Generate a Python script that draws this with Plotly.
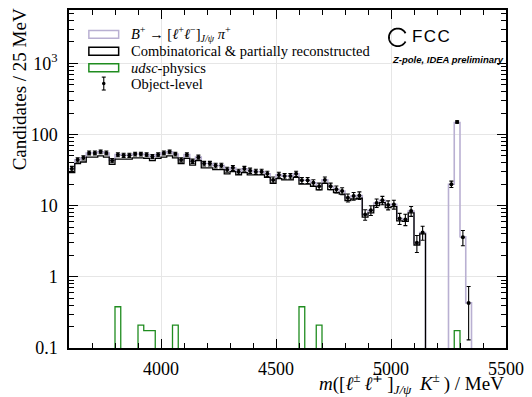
import numpy as np
import plotly.graph_objects as go

# ---------------- data (25 MeV bins from 3600 to 5500) ----------------
bin_edges = np.arange(3600, 5501, 25)          # 77 edges -> 76 bins
bin_centers = bin_edges[:-1] + 12.5

# Object-level (points); None = empty bin
obj_level = [33, 44, 47, 55, 55, 57, 55, 43, 52, 51,
             51, 53, 53, 52, 49, 52, 55, 57, 53, 44,
             52, 42, 48, 39, 39, 36.5, 36.5, 32, 34, 30,
             33, 31, 30, 30, 28, 23, 27, 26, 26, 28,
             22.7, 22.7, 21, 18.7, 23, 18.7, 17, 16, 12.9, 13.6,
             13.9, 7.5, 8.6, 10.9, 11.9, 10.2, 10.4, 6.6, 6.4, 8.4,
             3.0, 4.2, None, None, None, None, 20, 150, 3.6, 0.43,
             None, None, None, None, None, None]
obj_err = [2.6, 3.1, 3.2, 3.4, 3.4, 3.5, 3.4, 3.0, 3.3, 3.3,
           3.3, 3.3, 3.3, 3.3, 3.2, 3.3, 3.4, 3.5, 3.3, 3.1,
           3.3, 3.0, 3.2, 2.9, 2.9, 2.8, 2.8, 2.6, 2.7, 2.5,
           2.6, 2.6, 2.5, 2.5, 2.4, 2.2, 2.4, 2.3, 2.3, 2.4,
           2.2, 2.2, 2.1, 2.0, 2.2, 2.0, 1.9, 1.8, 1.65, 1.7,
           1.7, 1.26, 1.35, 1.5, 1.6, 1.47, 1.48, 1.18, 1.16, 1.33,
           0.8, 0.94, None, None, None, None, 2.06, 5.6, 0.87, 0.3,
           None, None, None, None, None, None]

# Combinatorical & partially reconstructed (black step histogram)
comb = [29, 39, 41, 48, 48, 50, 48, 38, 45, 45,
        45, 47, 47, 46, 43, 46, 48, 50, 47, 39,
        46, 37, 43, 34, 34, 32, 32, 28, 30, 27,
        29, 27, 27, 27, 25, 20.5, 24, 23, 23, 25,
        20, 20, 18.7, 16.6, 20.5, 16.8, 15.3, 14.5, 11.8, 12.4,
        12.7, 6.9, 7.9, 10, 11, 9.4, 9.7, 6.1, 6.0, 7.9,
        2.8, 4.0, 0, 0, 0, 0, 0, 0, 0, 0,
        0, 0, 0, 0, 0, 0]

# B+ -> [l+l-]_{J/psi} pi+ stacked on top of the background (lavender step histogram)
signal_stack = [33, 44, 47, 55, 55, 57, 55, 43, 52, 51,
                51, 53, 53, 52, 49, 52, 55, 57, 53, 44,
                52, 42, 48, 39, 39, 36.5, 36.5, 32, 34, 30,
                33, 31, 30, 30, 28, 23, 27, 26, 26, 28,
                22.7, 22.7, 21, 18.7, 23, 18.7, 17, 16, 12.9, 13.6,
                13.9, 7.5, 8.6, 10.9, 11.9, 10.2, 10.4, 6.6, 6.4, 8.4,
                3.0, 4.2, 0, 0, 0, 0, 20, 147, 3.66, 0.43,
                0, 0, 0, 0, 0, 0]

# udsc-physics (green step histogram)
udsc = [0, 0, 0, 0, 0, 0, 0, 0, 0.38, 0,
        0, 0, 0.21, 0.175, 0.175, 0, 0, 0, 0.21, 0,
        0, 0, 0, 0, 0, 0, 0, 0, 0, 0,
        0, 0, 0, 0, 0, 0, 0, 0, 0, 0,
        0.38, 0, 0, 0.21, 0, 0, 0, 0, 0, 0,
        0, 0, 0, 0, 0, 0, 0, 0, 0, 0,
        0, 0, 0, 0, 0, 0, 0, 0.175, 0, 0,
        0, 0, 0, 0, 0, 0]

x_ticks = [4000, 4500, 5000, 5500]
x_ticklabels = ["4000", "4500", "5000", "5500"]
y_ticks = [0.1, 1, 10, 100, 1000]
y_ticklabels = ["0.1", "1", "10", "100", "10<sup>3</sup>"]

# ---------------- style ----------------
SERIF = "Liberation Serif"
SANS = "Liberation Sans"
LAV = "#b9b0d2"
GREEN = "#1f8c1f"
L, R, T, B = 69, 23, 8, 49
W, H = 532, 397
PW, PH = W - L - R, H - T - B


def px(xp):
    return (xp - L) / PW


def py(yp):
    return (H - B - yp) / PH


def step(vals):
    v = [x if x > 0 else 1e-6 for x in vals]
    return list(bin_edges), v + [v[-1]]


fig = go.Figure()

sx, sy = step(signal_stack)
fig.add_trace(go.Scatter(x=sx, y=sy, mode="lines", line=dict(shape="hv", color=LAV, width=1.6),
                         showlegend=False, hoverinfo="skip"))
cx, cy = step(comb)
fig.add_trace(go.Scatter(x=cx, y=cy, mode="lines", line=dict(shape="hv", color="black", width=1.3),
                         showlegend=False, hoverinfo="skip"))
gx, gy = step(udsc)
fig.add_trace(go.Scatter(x=gx, y=gy, mode="lines", line=dict(shape="hv", color=GREEN, width=1.3),
                         showlegend=False, hoverinfo="skip"))
fig.add_trace(go.Scatter(x=bin_centers, y=obj_level, mode="markers",
                         marker=dict(color="black", size=4),
                         error_y=dict(type="data", array=obj_err, color="black", thickness=1.1, width=2),
                         showlegend=False))

minor_y = [k * 10.0 ** d for d in range(-1, 4) for k in range(2, 10) if k * 10.0 ** d < 5600]
minor_x = [v for v in range(3700, 5500, 100) if v not in x_ticks]

fig.update_xaxes(range=[3600, 5500], tickmode="array", tickvals=x_ticks, ticktext=x_ticklabels,
                 ticks="inside", ticklen=9, tickwidth=1.2, tickcolor="black",
                 showline=True, linecolor="black", linewidth=1.5, mirror="allticks",
                 showgrid=True, gridcolor="#e6e6e6", gridwidth=1, zeroline=False,
                 tickfont=dict(family=SERIF, size=18, color="black"), ticklabelstandoff=4,
                 minor=dict(tickmode="array", tickvals=minor_x, ticks="inside", ticklen=5,
                            tickwidth=1, tickcolor="black", showgrid=False))
fig.update_yaxes(type="log", range=[-1, np.log10(5600)], tickmode="array", tickvals=y_ticks,
                 ticktext=y_ticklabels, ticks="inside", ticklen=9, tickwidth=1.2, tickcolor="black",
                 showline=True, linecolor="black", linewidth=1.5, mirror="allticks",
                 showgrid=True, gridcolor="#e6e6e6", gridwidth=1, zeroline=False,
                 tickfont=dict(family=SERIF, size=18, color="black"), ticklabelstandoff=6,
                 minor=dict(tickmode="array", tickvals=minor_y, ticks="inside", ticklen=5,
                            tickwidth=1, tickcolor="black", showgrid=False))

shapes = []
annotations = []

# legend (manual)
rows = [(32.5, "<i>B</i><sup>+</sup> → [<i>ℓ</i><sup>+</sup><i>ℓ</i><sup>−</sup>]<sub><i>J/ψ</i></sub> <i>π</i><sup>+</sup>", LAV),
        (49.5, "Combinatorical &amp; partially reconstructed", "black"),
        (66, "<i>udsc</i>-physics", GREEN),
        (82, "Object-level", None)]
for yc, label, col in rows:
    if col is not None:
        shapes.append(dict(type="rect", xref="paper", yref="paper",
                           x0=px(89), x1=px(119), y0=py(yc + 4), y1=py(yc - 4),
                           line=dict(color=col, width=1.5), fillcolor="rgba(0,0,0,0)"))
    annotations.append(dict(x=px(129), y=py(yc), xref="paper", yref="paper", xanchor="left",
                            yanchor="middle", text=label, showarrow=False,
                            font=dict(family=SERIF, size=14.5, color="black")))
# error-bar legend symbol
shapes.append(dict(type="line", xref="paper", yref="paper", x0=px(104), x1=px(104),
                   y0=py(75.5), y1=py(88.5), line=dict(color="black", width=1.1)))
for yy in (75.5, 88.5):
    shapes.append(dict(type="line", xref="paper", yref="paper", x0=px(102), x1=px(106),
                       y0=py(yy), y1=py(yy), line=dict(color="black", width=1.1)))
shapes.append(dict(type="circle", xref="paper", yref="paper", x0=px(102.2), x1=px(105.8),
                   y0=py(83.8), y1=py(80.2), fillcolor="black", line=dict(color="black", width=0)))

# FCC logo ring
ang = np.deg2rad(np.arange(28, 333, 4))
rr = 8.8
path = "M " + " L ".join(f"{rr*np.cos(a):.2f},{rr*np.sin(a):.2f}" for a in ang)
shapes.append(dict(type="path", xref="paper", yref="paper", xsizemode="pixel", ysizemode="pixel",
                   xanchor=px(400), yanchor=py(35.5), path=path,
                   line=dict(color="black", width=1.8)))
annotations.append(dict(x=px(412), y=py(35), xref="paper", yref="paper", xanchor="left",
                        yanchor="middle", text="F\u200aC\u200aC", showarrow=False,
                        font=dict(family=SANS, size=17, color="black")))
annotations.append(dict(x=px(509), y=py(58), xref="paper", yref="paper", xanchor="right",
                        yanchor="middle", text="<b><i>Z-pole, IDEA preliminary</i></b>",
                        showarrow=False, font=dict(family=SANS, size=9.5, color="black")))

# axis titles
annotations.append(dict(x=1.0, y=py(384), xref="paper", yref="paper", xanchor="right",
                        yanchor="middle",
                        text="<i>m</i>([<i>ℓ</i><sup>±</sup>\u2009<i>ℓ</i><sup>∓</sup>\u2009]<sub><i>J/ψ</i></sub>\u2009 <i>K</i><sup>±</sup>\u2009) / MeV",
                        showarrow=False, font=dict(family=SERIF, size=19, color="black")))
annotations.append(dict(x=px(19), y=py(4), xref="paper", yref="paper", xanchor="center",
                        yanchor="top", textangle=-90, text="Candidates / 25 MeV",
                        showarrow=False, font=dict(family=SERIF, size=19, color="black")))

fig.update_layout(width=W, height=H, margin=dict(l=L, r=R, t=T, b=B),
                  paper_bgcolor="white", plot_bgcolor="white",
                  shapes=shapes, annotations=annotations, showlegend=False)

fig.write_html("out.html", config={"displayModeBar": False},
               post_script="document.body.style.margin='0';document.body.style.overflow='hidden';")
